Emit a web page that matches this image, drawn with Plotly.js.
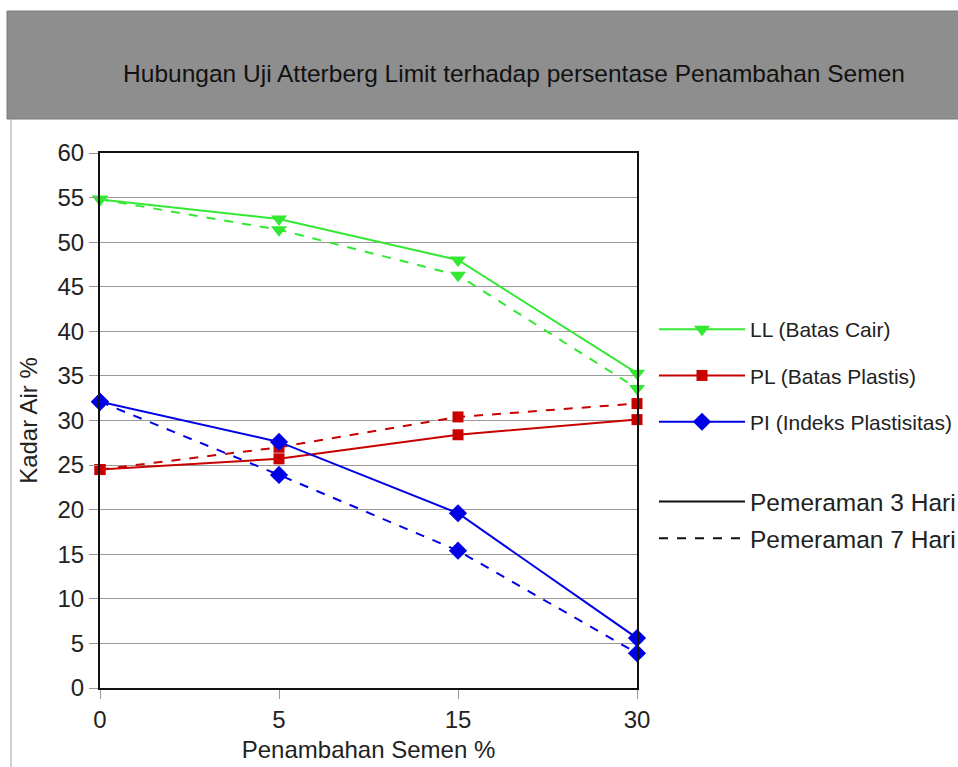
<!DOCTYPE html>
<html>
<head>
<meta charset="utf-8">
<script src="https://cdn.plot.ly/plotly-3.0.1.min.js"></script>
<style>
  html, body { margin: 0; padding: 0; background: #fff; }
  #chart { width: 958px; height: 767px; }
</style>
</head>
<body>
<div id="chart"></div>
<script>
// Persentase penambahan semen (sumbu X, kategori)
const kategori = ['0', '5', '15', '30'];

// Batas Cair (LL)
const LL_3hari = [54.8, 52.6, 48.0, 35.3];
const LL_7hari = [54.8, 51.4, 46.3, 33.6];

// Batas Plastis (PL)
const PL_3hari = [24.5, 25.7, 28.4, 30.1];
const PL_7hari = [24.5, 27.0, 30.4, 31.9];

// Indeks Plastisitas (PI)
const PI_3hari = [32.1, 27.6, 19.6, 5.6];
const PI_7hari = [32.1, 23.9, 15.4, 3.9];

const yTicks = [0, 5, 10, 15, 20, 25, 30, 35, 40, 45, 50, 55, 60];

const warnaLL = '#33e833';
const warnaPL = '#c80000';
const warnaPI = '#0000e6';

function seri(y, warna, simbol, ukuran, dash, nama, tampil, grup) {
  return {
    x: kategori, y: y, type: 'scatter', mode: 'lines+markers',
    name: nama, showlegend: tampil, legend: 'legend', legendgroup: grup,
    line: { color: warna, width: 2, dash: dash },
    marker: { color: warna, symbol: simbol, size: ukuran },
    cliponaxis: false, hoverinfo: 'x+y'
  };
}

const traces = [
  seri(LL_7hari, warnaLL, 'triangle-down', 14, 'dash', 'LL 7 hari', false, 'll7'),
  seri(LL_3hari, warnaLL, 'triangle-down', 14, 'solid', 'LL (Batas Cair)', true, 'll'),
  seri(PL_7hari, warnaPL, 'square', 11, 'dash', 'PL 7 hari', false, 'pl7'),
  seri(PL_3hari, warnaPL, 'square', 11, 'solid', 'PL (Batas Plastis)', true, 'pl'),
  seri(PI_7hari, warnaPI, 'diamond', 14, 'dash', 'PI 7 hari', false, 'pi7'),
  seri(PI_3hari, warnaPI, 'diamond', 14, 'solid', 'PI (Indeks Plastisitas)', true, 'pi'),
  // keterangan gaya garis (masa pemeraman)
  { x: [null], y: [null], type: 'scatter', mode: 'lines', name: 'Pemeraman 3 Hari',
    legend: 'legend2', legendgroup: 'p3', line: { color: '#111', width: 2, dash: 'solid' } },
  { x: [null], y: [null], type: 'scatter', mode: 'lines', name: 'Pemeraman 7 Hari',
    legend: 'legend2', legendgroup: 'p7', line: { color: '#111', width: 2, dash: 'dash' } }
];

const huruf = 'Liberation Sans, Arial, sans-serif';

// koordinat paper untuk bingkai judul
const W = 958, H = 767;
const L = 100, R = 637, T = 153, B = 688;
const px = v => (v - L) / (R - L);
const py = v => (B - v) / (B - T);

const layout = {
  width: W, height: H,
  margin: { l: L, r: W - R, t: T, b: H - B },
  paper_bgcolor: '#ffffff', plot_bgcolor: '#ffffff',
  font: { family: huruf, color: '#222', size: 24 },
  showlegend: true,
  title: {
    text: 'Hubungan Uji Atterberg Limit terhadap persentase Penambahan Semen',
    font: { family: huruf, size: 24.5, color: '#111' },
    x: 514 / W, xanchor: 'center', xref: 'container',
    y: 1 - 73 / H, yanchor: 'middle', yref: 'container'
  },
  xaxis: {
    type: 'category', categoryarray: kategori, range: [0, 3],
    showgrid: false, zeroline: false,
    showline: true, mirror: true, linecolor: '#111', linewidth: 2,
    ticks: 'outside', ticklen: 9, tickcolor: '#999', tickwidth: 1,
    tickfont: { size: 24, color: '#222' },
    title: { text: 'Penambahan Semen %', font: { size: 24, color: '#222' }, standoff: 9 }
  },
  yaxis: {
    range: [0, 60], tickvals: yTicks, ticktext: yTicks.map(String),
    showgrid: true, gridcolor: '#999', gridwidth: 1, zeroline: false,
    showline: true, mirror: true, linecolor: '#111', linewidth: 2,
    ticks: 'outside', ticklen: 9, tickcolor: '#999', tickwidth: 1,
    tickfont: { size: 24, color: '#222' },
    title: { text: 'Kadar Air %', font: { size: 24, color: '#222' }, standoff: 13 }
  },
  legend: {
    xref: 'container', yref: 'container',
    x: 654 / W, xanchor: 'left', y: 1 - 309 / H, yanchor: 'top',
    traceorder: 'grouped', tracegroupgap: 16, itemwidth: 86,
    font: { size: 21, color: '#222' }, bgcolor: 'rgba(0,0,0,0)'
  },
  legend2: {
    xref: 'container', yref: 'container',
    x: 654 / W, xanchor: 'left', y: 1 - 479 / H, yanchor: 'top',
    traceorder: 'grouped', tracegroupgap: 2, itemwidth: 86,
    font: { size: 24.5, color: '#222' }, bgcolor: 'rgba(0,0,0,0)'
  },
  shapes: [
    { type: 'rect', xref: 'paper', yref: 'paper', layer: 'below',
      x0: px(7), x1: px(962), y0: py(119), y1: py(11),
      fillcolor: '#8e8e8e', line: { color: '#7a7a7a', width: 1 } },
    { type: 'line', xref: 'paper', yref: 'paper', layer: 'below',
      x0: px(11), x1: px(11), y0: py(119), y1: py(770),
      line: { color: '#a0a0a0', width: 1 } }
  ]
};

Plotly.newPlot('chart', traces, layout, { displayModeBar: false, staticPlot: true });
</script>
</body>
</html>
